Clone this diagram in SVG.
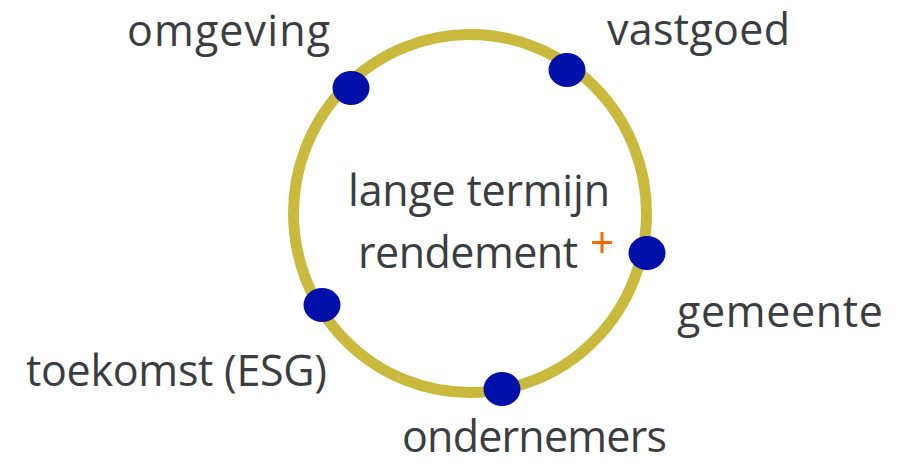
<svg xmlns="http://www.w3.org/2000/svg" width="912" height="464" viewBox="0 0 912 464">
  <style>
    .label { font-family: "Open Sans", "Noto Sans", "Liberation Sans", sans-serif; font-size: 43px; fill: #3b3e41; }
    .ring { fill: none; stroke: #c9b93c; stroke-width: 11; }
    .dot { fill: #0010a8; }
    .plus { stroke: #ff6a00; stroke-width: 3; }
  </style>
  <rect width="912" height="464" fill="#ffffff"/>

  <!-- the cycle ring -->
  <g id="connectors">
    <ellipse class="ring" cx="470" cy="213.5" rx="176.5" ry="179"/>
  </g>

  <!-- centre -->
  <g id="center">
    <text class="label" x="348" y="206" textLength="262">lange termijn</text>
    <text class="label" x="358" y="268" textLength="220">rendement</text>
    <path class="plus" d="M592 242.5 H612 M602 232 V253"/>
  </g>

  <!-- stakeholders on the ring -->
  <g id="omgeving">
    <ellipse class="dot" cx="351" cy="88" rx="18.5" ry="17"/>
    <text class="label" x="127" y="46" textLength="203">omgeving</text>
  </g>
  <g id="vastgoed">
    <ellipse class="dot" cx="567" cy="70" rx="18.5" ry="17"/>
    <text class="label" x="607" y="45" textLength="183">vastgoed</text>
  </g>
  <g id="gemeente">
    <ellipse class="dot" cx="647" cy="253" rx="18.5" ry="17"/>
    <text class="label" x="677" y="327" textLength="206">gemeente</text>
  </g>
  <g id="ondernemers">
    <ellipse class="dot" cx="502" cy="389" rx="18.5" ry="17"/>
    <text class="label" x="402" y="452" textLength="265">ondernemers</text>
  </g>
  <g id="toekomst">
    <ellipse class="dot" cx="322" cy="305" rx="18.5" ry="17"/>
    <text class="label" x="26" y="386" textLength="301">toekomst (ESG)</text>
  </g>
</svg>
